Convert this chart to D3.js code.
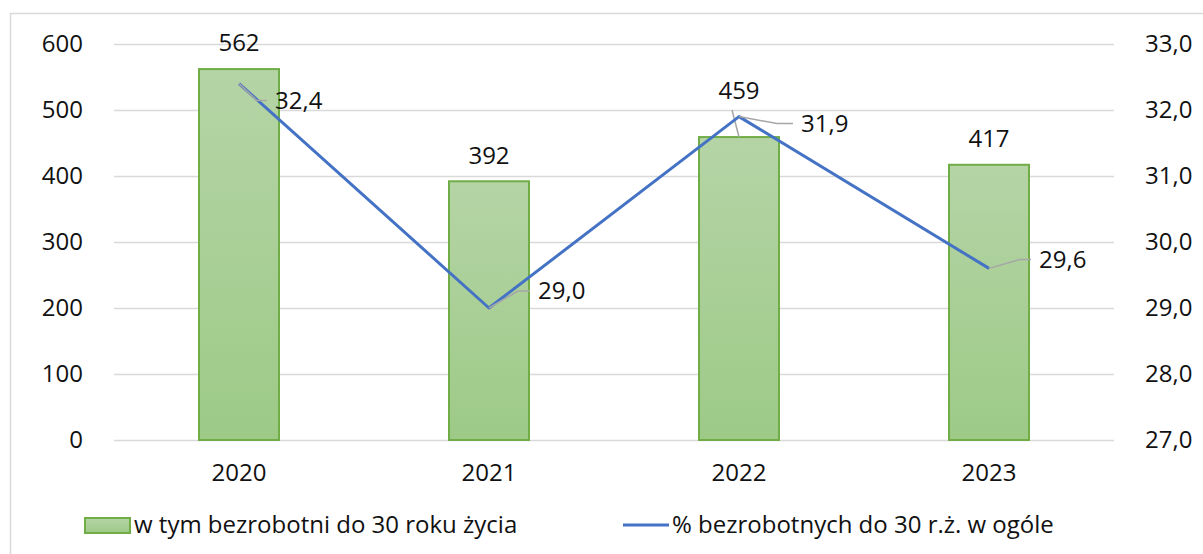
<!DOCTYPE html>
<html>
<head>
<meta charset="utf-8">
<script src="https://cdn.jsdelivr.net/npm/d3@7"></script>
<style>
  html, body { margin: 0; padding: 0; background: #fff; }
  svg { display: block; }
  text { font-family: "Open Sans", sans-serif; fill: #111; }
</style>
</head>
<body>
<svg id="chart" width="1203" height="554"></svg>
<script>
const years = ['2020', '2021', '2022', '2023'];
const youngUnemployed = [562, 392, 459, 417];
const sharePct = [32.4, 29.0, 31.9, 29.6];
const leftTicks = [0, 100, 200, 300, 400, 500, 600];
const rightTicks = [27, 28, 29, 30, 31, 32, 33];
const barSeriesName = 'w tym bezrobotni do 30 roku życia';
const lineSeriesName = '% bezrobotnych do 30 r.ż. w ogóle';

// label placement (px offsets relative to the mark)
const barLabelRaise = [26, 26, 46, 26];
const lineLabelOffset = [
    { dx: 28, dy: 17, bend: 18 },
    { dx: 41, dy: -17, bend: 29 },
    { dx: 54, dy: 7, bend: 38 },
    { dx: 42, dy: -9, bend: 31 }
];
const TEXT_GAP = 8;

const M = { left: 114, right: 1114, top: 44, bottom: 440 };
const FONT = 24;

const plLocale = d3.formatLocale({ decimal: ',', thousands: ' ', grouping: [3], currency: ['', ' zł'] });
const fmt1 = plLocale.format('.1f');

const svg = d3.select('#chart');

// outer chart border
svg.append('rect')
    .attr('x', 10.5).attr('y', 13.5)
    .attr('width', 1220).attr('height', 560)
    .attr('fill', 'none').attr('stroke', '#d9d9d9').attr('stroke-width', 1.5);

const x = d3.scaleBand().domain(years).range([M.left, M.right])
    .paddingInner(0.68).paddingOuter(0.34);
const yL = d3.scaleLinear().domain([0, 600]).range([M.bottom, M.top]);
const yR = d3.scaleLinear().domain([27, 33]).range([M.bottom, M.top]);

// gradient for bars
const defs = svg.append('defs');
const grad = defs.append('linearGradient').attr('id', 'barGrad')
    .attr('x1', 0).attr('y1', 0).attr('x2', 0).attr('y2', 1);
grad.append('stop').attr('offset', '0%').attr('stop-color', '#b5d4a6');
grad.append('stop').attr('offset', '100%').attr('stop-color', '#9dca87');

// gridlines
svg.append('g')
    .attr('transform', 'translate(' + M.left + ',0)')
    .call(d3.axisRight(yL).tickValues(leftTicks).tickSize(M.right - M.left).tickFormat(''))
    .call(g => g.select('.domain').remove())
    .call(g => g.selectAll('.tick line').attr('stroke', '#d9d9d9').attr('stroke-width', 1.5));

// left axis labels
svg.append('g')
    .attr('transform', 'translate(83,0)')
    .call(d3.axisLeft(yL).tickValues(leftTicks).tickSize(0).tickPadding(0))
    .call(g => g.select('.domain').remove())
    .call(g => g.selectAll('text').style('font-size', FONT + 'px').attr('fill', '#111'));

// right axis labels
svg.append('g')
    .attr('transform', 'translate(1145,0)')
    .call(d3.axisRight(yR).tickValues(rightTicks).tickSize(0).tickPadding(0).tickFormat(fmt1))
    .call(g => g.select('.domain').remove())
    .call(g => g.selectAll('text').style('font-size', FONT + 'px').attr('fill', '#111'));

// category axis labels
svg.append('g')
    .attr('transform', 'translate(0,' + M.bottom + ')')
    .call(d3.axisBottom(x).tickSize(0).tickPadding(24))
    .call(g => g.select('.domain').remove())
    .call(g => g.selectAll('text').style('font-size', FONT + 'px').attr('fill', '#111'));

// bars
svg.append('g').selectAll('rect')
    .data(youngUnemployed)
    .join('rect')
    .attr('x', (d, i) => x(years[i]))
    .attr('y', d => yL(d))
    .attr('width', x.bandwidth())
    .attr('height', d => yL(0) - yL(d))
    .attr('fill', 'url(#barGrad)')
    .attr('stroke', '#70ad47')
    .attr('stroke-width', 2);

// leader line for raised bar label (2022)
youngUnemployed.forEach((d, i) => {
    if (barLabelRaise[i] > 30) {
        const cx = x(years[i]) + x.bandwidth() / 2;
        svg.append('path')
            .attr('d', d3.line()([[cx - 7, yL(d) - barLabelRaise[i] + 19], [cx, yL(d)]]))
            .attr('stroke', '#a6a6a6').attr('stroke-width', 1.5).attr('fill', 'none');
    }
});

// line series
const pts = sharePct.map((v, i) => [x(years[i]) + x.bandwidth() / 2, yR(v)]);
svg.append('path')
    .attr('d', d3.line()(pts))
    .attr('fill', 'none')
    .attr('stroke', '#4472c4')
    .attr('stroke-width', 3)
    .attr('stroke-linejoin', 'round');

// bar labels
svg.append('g').selectAll('text')
    .data(youngUnemployed)
    .join('text')
    .attr('x', (d, i) => x(years[i]) + x.bandwidth() / 2)
    .attr('y', (d, i) => yL(d) - barLabelRaise[i])
    .attr('dy', '0.35em')
    .attr('text-anchor', 'middle')
    .style('font-size', FONT + 'px')
    .text(d => d);

// line label leaders + labels
sharePct.forEach((v, i) => {
    const [px, py] = pts[i];
    const o = lineLabelOffset[i];
    svg.append('path')
        .attr('d', d3.line()([[px, py], [px + o.bend, py + o.dy], [px + o.dx, py + o.dy]]))
        .attr('stroke', '#a6a6a6').attr('stroke-width', 1.5).attr('fill', 'none');
    svg.append('text')
        .attr('x', px + o.dx + TEXT_GAP)
        .attr('y', py + o.dy)
        .attr('dy', '0.35em')
        .style('font-size', FONT + 'px')
        .text(fmt1(v));
});

// legend
const lg = svg.append('g');
lg.append('rect').attr('x', 85).attr('y', 518).attr('width', 45).attr('height', 15)
    .attr('fill', 'url(#barGrad)').attr('stroke', '#70ad47').attr('stroke-width', 2);
lg.append('text').attr('x', 134).attr('y', 525).attr('dy', '0.35em')
    .style('font-size', FONT + 'px').text(barSeriesName);
lg.append('line').attr('x1', 623).attr('x2', 669).attr('y1', 525).attr('y2', 525)
    .attr('stroke', '#4472c4').attr('stroke-width', 3);
lg.append('text').attr('x', 672).attr('y', 525).attr('dy', '0.35em')
    .style('font-size', FONT + 'px').text(lineSeriesName);
</script>
</body>
</html>
